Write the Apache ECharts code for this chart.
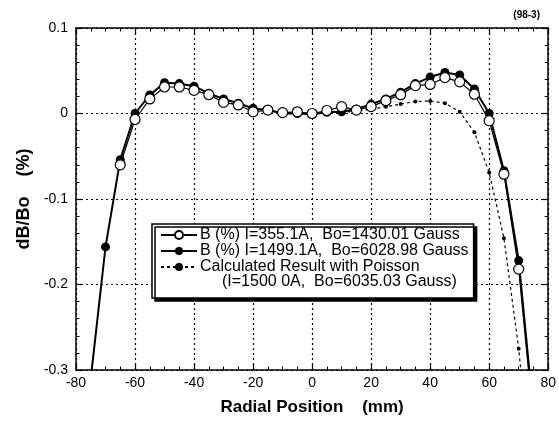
<!DOCTYPE html>
<html>
<head>
<meta charset="utf-8">
<script src="https://cdn.jsdelivr.net/npm/echarts@6/dist/echarts.min.js"></script>
<style>html,body{margin:0;padding:0;background:#fff}#c{width:559px;height:425px}</style>
</head>
<body>
<div id="c"></div>
<script>
// Radial positions (mm)
const positions = [-75,-70,-65,-60,-55,-50,-45,-40,-35,-30,-25,-20,-15,-10,-5,0,5,10,15,20,25,30,35,40,45,50,55,60,65,70,75];
// B (%) I=355.1A  (open circles)
const openB = [null,null,-0.060,-0.007,0.017,0.031,0.031,0.027,0.022,0.013,0.010,0.002,0.004,0.001,0.002,0.000,0.0035,0.008,0.004,0.008,0.015,0.022,0.0326,0.034,0.042,0.037,0.0225,-0.0085,-0.071,-0.182,-0.36];
// B (%) I=1499.1A (filled circles)
const filledB = [-0.31,-0.156,-0.054,0.000,0.0217,0.036,0.035,0.032,0.0236,0.017,0.012,0.006,0.004,0.000,0.000,-0.001,0.0015,0.002,0.005,0.011,0.017,0.025,0.035,0.0426,0.048,0.045,0.0287,0.000,-0.067,-0.172,-0.35];
// Calculated result with Poisson
const calcX = [10,15,20,25,30,35,40,45,50,55,60,65,70,75];
const calcB = [0.001,0.003,0.005,0.008,0.011,0.014,0.0147,0.012,0.002,-0.022,-0.069,-0.146,-0.275,-0.45];
// Tick labels
const xTicks = [-80,-60,-40,-20,0,20,40,60,80];
const yTicks = [0.1,0,-0.1,-0.2,-0.3];

const openName = 'B (%) I=355.1A,  Bo=1430.01 Gauss';
const filledName = 'B (%) I=1499.1A,  Bo=6028.98 Gauss';
const calcName = 'Calculated Result with Poisson';
const calcName2 = '(I=1500 0A,  Bo=6035.03 Gauss)';

const pairs = (xs, ys) => xs.map((x, i) => [x, ys[i]]).filter(p => p[1] !== null);
const FONT = 'Liberation Sans, Arial, Helvetica, sans-serif';

const chart = echarts.init(document.getElementById('c'), null, {renderer: 'canvas'});
const gridLine = {show: true, lineStyle: {color: '#000', type: [2, 3], width: 1.2}};
const axisBase = {
  axisLine: {show: true, onZero: false, lineStyle: {color: '#000', width: 1.5}},
  axisTick: {show: true, inside: true, length: 6, lineStyle: {color: '#000', width: 1.2}},
  minorTick: {show: true, length: 3.5, lineStyle: {color: '#000', width: 1}},
};
chart.setOption({
  animation: false,
  backgroundColor: '#fff',
  title: {text: '(98-3)', right: 14, top: 5, textStyle: {fontSize: 10, fontWeight: 'bold', fontFamily: FONT, color: '#000'}},
  grid: {left: 76, right: 8, top: 28, bottom: 55},
  xAxis: [
    Object.assign({}, axisBase, {
      type: 'value', min: -80, max: 80, interval: 20, minorTick: Object.assign({}, axisBase.minorTick, {splitNumber: 4}),
      splitLine: gridLine,
      axisLabel: {color: '#000', fontSize: 14, fontFamily: FONT, margin: 6, formatter: v => xTicks.includes(v) ? String(v) : ''},
      name: 'Radial Position    (mm)', nameLocation: 'middle', nameGap: 29,
      nameTextStyle: {fontSize: 17, fontWeight: 'bold', fontFamily: FONT, color: '#000'}
    }),
    Object.assign({}, axisBase, {
      type: 'value', position: 'top', min: -80, max: 80, interval: 20, minorTick: Object.assign({}, axisBase.minorTick, {splitNumber: 4}),
      splitLine: {show: false}, axisLabel: {show: false}
    })
  ],
  yAxis: [
    Object.assign({}, axisBase, {
      type: 'value', min: -0.3, max: 0.1, interval: 0.1, minorTick: Object.assign({}, axisBase.minorTick, {splitNumber: 5}),
      splitLine: gridLine,
      axisLabel: {color: '#000', fontSize: 14, fontFamily: FONT, margin: 8,
        formatter: v => { const r = Math.round(v * 10) / 10; return yTicks.includes(r) ? String(r) : ''; }},
      name: 'dB/Bo    (%)', nameLocation: 'middle', nameGap: 43, nameRotate: 90,
      nameTextStyle: {fontSize: 18, fontWeight: 'bold', fontFamily: FONT, color: '#000'}
    }),
    Object.assign({}, axisBase, {
      type: 'value', position: 'right', min: -0.3, max: 0.1, interval: 0.1, minorTick: Object.assign({}, axisBase.minorTick, {splitNumber: 5}),
      splitLine: {show: false}, axisLabel: {show: false}
    })
  ],
  legend: {
    orient: 'vertical', left: 152, top: 224,
    data: [openName, filledName, calcName],
    itemWidth: 36, itemHeight: 10, itemGap: 0,
    padding: [3, 5, 23, 8],
    backgroundColor: '#fff', borderColor: '#000', borderWidth: 1.5, borderRadius: 0,
    shadowColor: '#000', shadowBlur: 0, shadowOffsetX: 3, shadowOffsetY: 3,
    textStyle: {fontSize: 16, fontFamily: FONT, color: '#000', lineHeight: 16, padding: [0, 0, 0, -2]},
    selectedMode: false
  },
  graphic: [{
    type: 'text', left: 222, top: 274, z: 100,
    style: {text: calcName2, fontSize: 16, fontFamily: FONT, fill: '#000'}
  }],
  series: [
    {
      name: calcName, type: 'line', data: pairs(calcX, calcB), z: 2,
      symbol: 'circle', symbolSize: 4, showAllSymbol: true,
      itemStyle: {color: '#000'},
      lineStyle: {color: '#000', width: 1.2, type: [3, 3]}
    },
    {
      name: filledName, type: 'line', data: pairs(positions, filledB), z: 3,
      symbol: 'circle', symbolSize: 9, showAllSymbol: true,
      itemStyle: {color: '#000'},
      lineStyle: {color: '#000', width: 2}
    },
    {
      name: openName, type: 'line', data: pairs(positions, openB), z: 4,
      symbol: 'circle', symbolSize: 10, showAllSymbol: true,
      itemStyle: {color: '#fff', borderColor: '#000', borderWidth: 1.2},
      lineStyle: {color: '#000', width: 1.2}
    }
  ]
});
</script>
</body>
</html>
